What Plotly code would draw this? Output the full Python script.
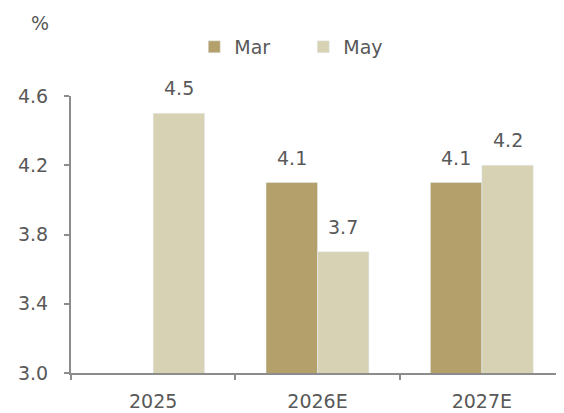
import plotly.graph_objects as go

categories = ["2025", "2026E", "2027E"]
mar_values = [None, 4.1, 4.1]
may_values = [4.5, 3.7, 4.2]
y_ticks = [3.0, 3.4, 3.8, 4.2, 4.6]

MAR_COLOR = "#B3A06A"
MAY_COLOR = "#D8D2B4"
TEXT = "#595959"
AXIS = "#8C8C8C"
FONT = "'DejaVu Sans', sans-serif"
FS = 19

fig = go.Figure()
fig.add_trace(go.Bar(name="Mar", x=categories, y=mar_values, marker_color=MAR_COLOR))
fig.add_trace(go.Bar(name="May", x=categories, y=may_values, marker_color=MAY_COLOR))

# value labels above bars (x given as category index on the category axis)
annotations = []
for series, shift in ((mar_values, -25.75), (may_values, 25.75)):
    for idx, val in enumerate(series):
        if val is None:
            continue
        annotations.append(dict(x=idx, y=val, xref="x", yref="y", text=f"{val:.1f}",
                                showarrow=False, yanchor="bottom", xshift=shift, yshift=12,
                                font=dict(size=FS, color=TEXT)))
annotations.append(dict(text="%", x=-0.085, y=1.31, xref="paper", yref="paper",
                        showarrow=False, font=dict(size=FS, color=TEXT)))

fig.update_layout(
    width=556, height=405,
    margin=dict(l=63, r=0, t=88, b=40, autoexpand=False),
    paper_bgcolor="white", plot_bgcolor="white",
    font=dict(family=FONT, size=FS, color=TEXT),
    barmode="group", bargap=0.374, bargroupgap=0,
    showlegend=True,
    legend=dict(orientation="h", x=0.25, y=1.177, xanchor="left", yanchor="middle",
                font=dict(size=FS, color=TEXT), traceorder="normal",
                entrywidth=64, entrywidthmode="pixels",
                bgcolor="rgba(0,0,0,0)"),
    annotations=annotations,
)
fig.update_yaxes(range=[3.0, 4.6], tickvals=y_ticks, ticktext=[f"{v:.1f}" for v in y_ticks],
                 showgrid=False, zeroline=False, showline=True, linecolor=AXIS, linewidth=2,
                 ticks="outside", ticklen=5, tickcolor=AXIS, tickwidth=2, automargin=False,
                 tickfont=dict(size=FS, color=TEXT), ticklabelstandoff=12)
fig.update_xaxes(type="category", categoryorder="array", categoryarray=categories,
                 range=[-0.5, 2.5],
                 showgrid=False, showline=True, linecolor=AXIS, linewidth=2, automargin=False,
                 ticks="outside", ticklen=5, tickcolor=AXIS, tickwidth=2, tickson="boundaries",
                 tickfont=dict(size=FS, color=TEXT), ticklabelstandoff=10)

fig.write_html("out.html")
